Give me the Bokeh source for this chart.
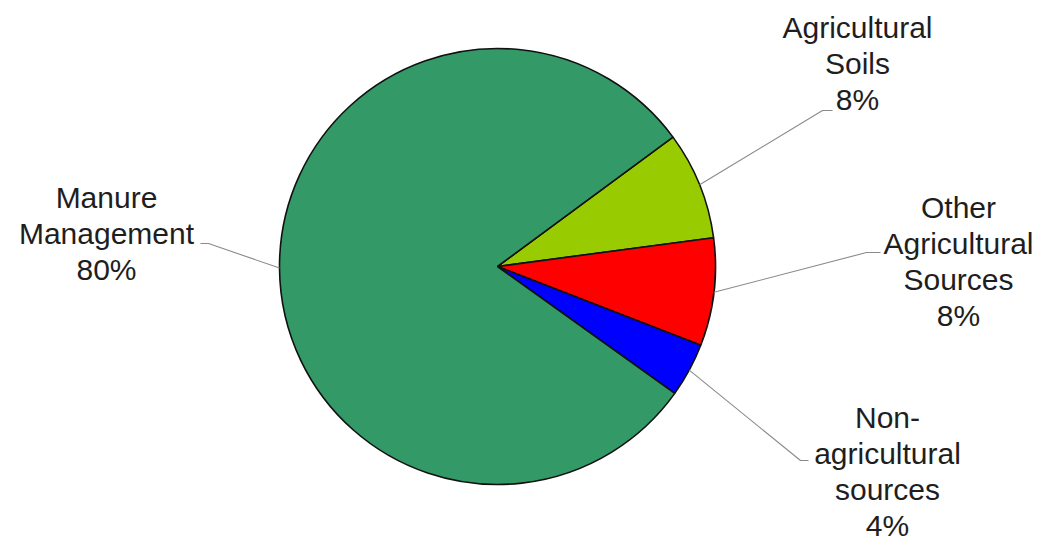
import math
from bokeh.plotting import figure
from bokeh.models import Range1d, ColumnDataSource
from bokeh.core.properties import value
from bokeh.embed import file_html
from bokeh.resources import INLINE

# ---- data ----
categories = ["Agricultural Soils", "Other Agricultural Sources", "Non-agricultural sources", "Manure Management"]
label_names = ["Agricultural\nSoils", "Other\nAgricultural\nSources", "Non-\nagricultural\nsources", "Manure\nManagement"]
values = [8, 8, 4, 80]
colors = ["#99CC00", "#FF0000", "#0000FF", "#339966"]

# ---- layout (picture pixel coords, y downwards) ----
W, H = 1037, 541
TOP = 557
def Y(img_y):
    return TOP - img_y

cx, cy, r = 497, Y(266), 218
start_deg = 36.4

# label block centres and leader-line anchors (picture coords)
label_pos = [(857, 63), (958, 261), (887, 471), (106, 233)]
elbows = [((822, 110), (832, 110)), ((866, 252), (880, 252)),
          ((800, 460), (808, 460)), ((208, 243), (200, 243))]

p = figure(width=W, height=H, output_backend="svg", toolbar_location=None,
           x_range=Range1d(0, W), y_range=Range1d(TOP - H, TOP),
           min_border=0, background_fill_color="white", border_fill_color="white")
p.axis.visible = False
p.grid.visible = False
p.outline_line_color = None

total = sum(values)
starts, ends, mids = [], [], []
a = math.radians(start_deg)
for v in values:
    span = 2 * math.pi * v / total
    ends.append(a)
    starts.append(a - span)
    mids.append(a - span / 2)
    a -= span

src = ColumnDataSource(dict(start=starts, end=ends, color=colors, cat=categories))
p.wedge(x=cx, y=cy, radius=r, start_angle="start", end_angle="end",
        direction="anticlock", fill_color="color", line_color="#111111",
        line_width=1.6, source=src)

# leader lines
xs, ys = [], []
for m, (e1, e2) in zip(mids, elbows):
    ex = cx + r * math.cos(m)
    ey = cy + r * math.sin(m)
    xs.append([ex, e1[0], e2[0]])
    ys.append([ey, Y(e1[1]), Y(e2[1])])
p.multi_line(xs, ys, line_color="#8a8a8a", line_width=1.1)

texts = [f"{n}\n{v}%" for n, v in zip(label_names, values)]
p.text(x=[lp[0] for lp in label_pos], y=[Y(lp[1]) for lp in label_pos], text=texts,
       text_align="center", text_baseline="middle",
       text_font=value("Liberation Sans"), text_font_size="30px",
       text_line_height=1.1, text_color="#1e1e1e")

open("out.html", "w").write(file_html(p, INLINE))
